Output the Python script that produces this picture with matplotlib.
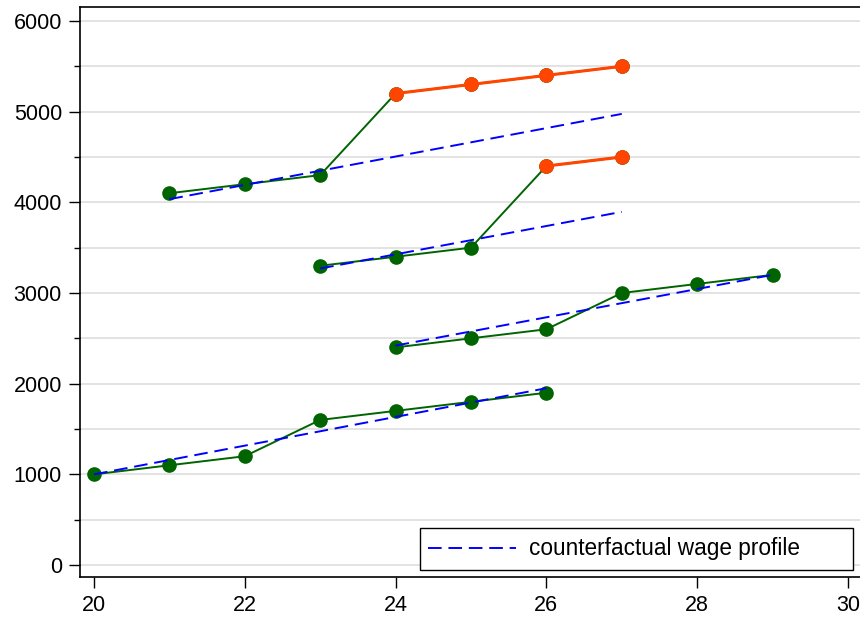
import numpy as np
import matplotlib
matplotlib.use("Agg")
from matplotlib import pyplot as plt
from matplotlib.ticker import MultipleLocator
from matplotlib.patches import Rectangle

plt.rcParams['font.family'] = ['Liberation Sans', 'DejaVu Sans']

# wage paths (age, wage) for four workers
age_a = [20, 21, 22, 23, 24, 25, 26]
wage_a = [1000, 1100, 1200, 1600, 1700, 1800, 1900]
age_b = [24, 25, 26, 27, 28, 29]
wage_b = [2400, 2500, 2600, 3000, 3100, 3200]
age_c = [23, 24, 25, 26, 27]
wage_c = [3300, 3400, 3500, 4400, 4500]
age_d = [21, 22, 23, 24, 25, 26, 27]
wage_d = [4100, 4200, 4300, 5200, 5300, 5400, 5500]

# highlighted (orange) points
hi_c_age = [26, 27]
hi_c_wage = [4400, 4500]
hi_d_age = [24, 25, 26, 27]
hi_d_wage = [5200, 5300, 5400, 5500]

# counterfactual profiles (start, end)
cf_age = [[20, 26], [24, 29], [23, 27], [21, 27]]
cf_wage = [[1000, 1950], [2420, 3200], [3270, 3895], [4035, 4975]]

green = '#006400'
orange = '#ff4500'
blue = '#0000ff'
dash = (7, 3.5)

fig = plt.figure(figsize=(8.6, 6.17), dpi=100)
ax = fig.add_axes([80/860, 1 - 577/617, 1 - 80/860, (577 - 7)/617])

for a, w in zip(cf_age, cf_wage):
    ax.plot(a, w, color=blue, lw=1.4, dashes=dash, zorder=4)

for a, w in [(age_a, wage_a), (age_b, wage_b), (age_c, wage_c), (age_d, wage_d)]:
    ax.plot(a, w, color=green, lw=1.4, marker='o', ms=9.5, zorder=3)

for a, w in [(hi_c_age, hi_c_wage), (hi_d_age, hi_d_wage)]:
    ax.plot(a, w, color=orange, lw=2.2, marker='o', ms=9.5, zorder=5)

ax.set_xlim(19.814, 30.16)
ax.set_ylim(-132, 6154)
ax.set_xticks(np.arange(20, 31, 2))
ax.yaxis.set_major_locator(MultipleLocator(1000))
ax.yaxis.set_minor_locator(MultipleLocator(500))
ax.grid(True, which='both', axis='y', color='#dedede', lw=1.2)
ax.set_axisbelow(True)
ax.tick_params(axis='both', which='major', direction='out', length=8, width=1,
               labelsize=15.5, colors='black', pad=5)
ax.tick_params(axis='y', which='minor', direction='out', length=4, width=1)
ax.spines['right'].set_visible(False)
for s in ['left', 'bottom', 'top']:
    ax.spines[s].set_linewidth(1.2)

# legend: Stata-style box, wider than its content
ax.add_patch(Rectangle((420/860, 1 - 570/617), 433/860, 42/617,
                       transform=fig.transFigure, fill=True, fc='white',
                       ec='black', lw=1, zorder=10, clip_on=False))
ax.plot([], [], color=blue, lw=1.4, dashes=dash, label='counterfactual wage profile')
leg = ax.legend(loc='center left', bbox_to_anchor=(428/860, 1 - 549/617),
                bbox_transform=fig.transFigure, fontsize=16.3, frameon=False,
                handlelength=3.9, handletextpad=0.55, borderpad=0,
                borderaxespad=0)
leg.set_zorder(11)

fig.savefig('out.png', dpi=100)
